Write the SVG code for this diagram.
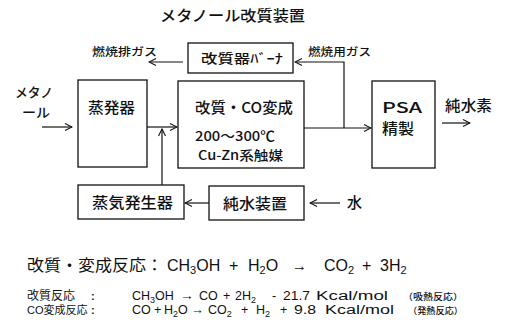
<svg xmlns="http://www.w3.org/2000/svg" width="506" height="335" viewBox="0 0 506 335">
<style>
text { font-family: "Liberation Sans", "Noto Sans CJK JP", sans-serif; fill: #111; }
.jp { font-family: "Noto Sans CJK JP", sans-serif; font-weight: 500; }
.lbl { font-size: 15px; }
.sm { font-size: 11px; }
.box { fill: #fff; stroke: #111; stroke-width: 1.3; }
.ln { fill: none; stroke: #111; stroke-width: 1.2; }
.eq1 { font-size: 16px; }
.eq2 { font-size: 12.5px; }
.col { font-size: 11px; font-weight: bold; }
.tiny { font-size: 9px; }
</style>
<defs>
<marker id="ah" markerWidth="9" markerHeight="9" refX="8" refY="4.5" orient="auto" markerUnits="userSpaceOnUse">
<path d="M1,1 L8,4.5 L1,8" fill="none" stroke="#111" stroke-width="1.1"/>
</marker>
</defs>
<rect width="506" height="335" fill="#fff"/>

<text id="title" class="jp" x="160" y="21" font-size="15" textLength="145" lengthAdjust="spacingAndGlyphs">メタノール改質装置</text>

<g id="connectors">
<line class="ln" x1="183" y1="62" x2="149" y2="62" marker-end="url(#ah)"/>
<polyline class="ln" points="344,128 344,62 295,62" marker-end="url(#ah)"/>
<line class="ln" x1="304" y1="128" x2="371" y2="128" marker-end="url(#ah)"/>
<line class="ln" x1="42" y1="127" x2="72" y2="127" marker-end="url(#ah)"/>
<line class="ln" x1="147" y1="127" x2="177" y2="127" marker-end="url(#ah)"/>
<line class="ln" x1="162" y1="185" x2="162" y2="129" marker-end="url(#ah)"/>
<line class="ln" x1="442" y1="123" x2="470" y2="123" marker-end="url(#ah)"/>
<line class="ln" x1="209" y1="203" x2="185" y2="203" marker-end="url(#ah)"/>
<line class="ln" x1="340" y1="203" x2="310" y2="203" marker-end="url(#ah)"/>
</g>

<g id="exhaust-label"><text class="jp sm" x="92" y="56" textLength="65" lengthAdjust="spacingAndGlyphs">燃焼排ガス</text></g>
<g id="fuel-label"><text class="jp sm" x="308" y="56" textLength="63" lengthAdjust="spacingAndGlyphs">燃焼用ガス</text></g>

<g id="burner">
<rect class="box" x="188" y="43" width="105" height="30"/>
<text class="jp" x="201" y="63" font-size="13" textLength="82" lengthAdjust="spacingAndGlyphs">改質器ﾊﾞｰﾅ</text>
</g>

<g id="methanol-in">
<text class="jp" x="15" y="97" font-size="13" textLength="38" lengthAdjust="spacingAndGlyphs">メタノ</text>
<text class="jp" x="22" y="117" font-size="13" textLength="28" lengthAdjust="spacingAndGlyphs">ール</text>
</g>

<g id="evaporator">
<rect class="box" x="78" y="80" width="69" height="87"/>
<text class="jp lbl" x="88" y="113" textLength="47" lengthAdjust="spacingAndGlyphs">蒸発器</text>
</g>

<g id="reformer">
<rect class="box" x="178" y="81" width="126" height="87"/>
<text class="jp lbl" x="195" y="113" textLength="98" lengthAdjust="spacingAndGlyphs">改質・CO変成</text>
<text class="jp" x="195" y="141" font-size="13.5" textLength="80" lengthAdjust="spacingAndGlyphs">200～300℃</text>
<text class="jp" x="198" y="160" font-size="13" textLength="85" lengthAdjust="spacingAndGlyphs">Cu-Zn系触媒</text>
</g>

<g id="psa">
<rect class="box" x="372" y="81" width="63" height="87"/>
<text class="jp lbl" x="382" y="113" textLength="40" lengthAdjust="spacingAndGlyphs">PSA</text>
<text class="jp lbl" x="382" y="134" textLength="32" lengthAdjust="spacingAndGlyphs">精製</text>
</g>

<g id="pure-h2"><text class="jp lbl" x="445" y="111" textLength="47" lengthAdjust="spacingAndGlyphs">純水素</text></g>

<g id="steam-gen">
<rect class="box" x="78" y="185" width="106" height="34"/>
<text class="jp lbl" x="92" y="208" textLength="81" lengthAdjust="spacingAndGlyphs">蒸気発生器</text>
</g>

<g id="pure-water">
<rect class="box" x="209" y="186" width="95" height="34"/>
<text class="jp lbl" x="223" y="209" textLength="64" lengthAdjust="spacingAndGlyphs">純水装置</text>
</g>

<g id="water-in"><text class="jp lbl" x="347" y="208">水</text></g>

<g id="equations">
<text class="eq1" x="27" y="271" textLength="136" lengthAdjust="spacingAndGlyphs">改質・変成反応：</text>
<text class="eq1" x="167" y="271">CH<tspan font-size="11" dy="3">3</tspan><tspan dy="-3">OH</tspan></text>
<text class="eq1" x="229" y="271">+</text>
<text class="eq1" x="248" y="271">H<tspan font-size="11" dy="3">2</tspan><tspan dy="-3">O</tspan></text>
<text class="eq1" x="292" y="271" textLength="15" lengthAdjust="spacingAndGlyphs">→</text>
<text class="eq1" x="324" y="271">CO<tspan font-size="11" dy="3">2</tspan></text>
<text class="eq1" x="362" y="271">+</text>
<text class="eq1" x="380" y="271">3H<tspan font-size="11" dy="3">2</tspan></text>

<text class="eq2" x="27" y="300"><tspan font-size="12">改質反応</tspan><tspan class="col" x="91">:</tspan></text>
<text class="eq2" x="132" y="300">CH<tspan font-size="9" dy="2.5">3</tspan><tspan dy="-2.5">OH</tspan></text>
<text class="eq2" x="180" y="300" textLength="14" lengthAdjust="spacingAndGlyphs">→</text>
<text class="eq2" x="199" y="300">CO</text>
<text class="eq2" x="223" y="300">+</text>
<text class="eq2" x="235" y="300">2H<tspan font-size="9" dy="2.5">2</tspan></text>
<text class="eq2" x="272" y="300">-</text>
<text class="eq2" x="283" y="300" textLength="27" lengthAdjust="spacingAndGlyphs">21.7</text>
<text class="eq2" x="316" y="300" textLength="72" lengthAdjust="spacingAndGlyphs">Kcal/mol</text>
<text class="tiny jp" x="403" y="300" textLength="60" lengthAdjust="spacingAndGlyphs">（吸熱反応）</text>

<text class="eq2" x="27" y="314"><tspan font-size="11">CO変成反応</tspan><tspan class="col" x="91">:</tspan></text>
<text class="eq2" x="132" y="314">CO</text>
<text class="eq2" x="154" y="314">+</text>
<text class="eq2" x="164" y="314">H<tspan font-size="9" dy="2.5">2</tspan><tspan dy="-2.5">O</tspan></text>
<text class="eq2" x="191" y="314" textLength="13" lengthAdjust="spacingAndGlyphs">→</text>
<text class="eq2" x="208" y="314">CO<tspan font-size="9" dy="2.5">2</tspan></text>
<text class="eq2" x="241" y="314">+</text>
<text class="eq2" x="256" y="314">H<tspan font-size="9" dy="2.5">2</tspan></text>
<text class="eq2" x="280" y="314">+</text>
<text class="eq2" x="294" y="314" textLength="22" lengthAdjust="spacingAndGlyphs">9.8</text>
<text class="eq2" x="325" y="314" textLength="69" lengthAdjust="spacingAndGlyphs">Kcal/mol</text>
<text class="tiny jp" x="408" y="314" textLength="55" lengthAdjust="spacingAndGlyphs">（発熱反応）</text>
</g>
</svg>
